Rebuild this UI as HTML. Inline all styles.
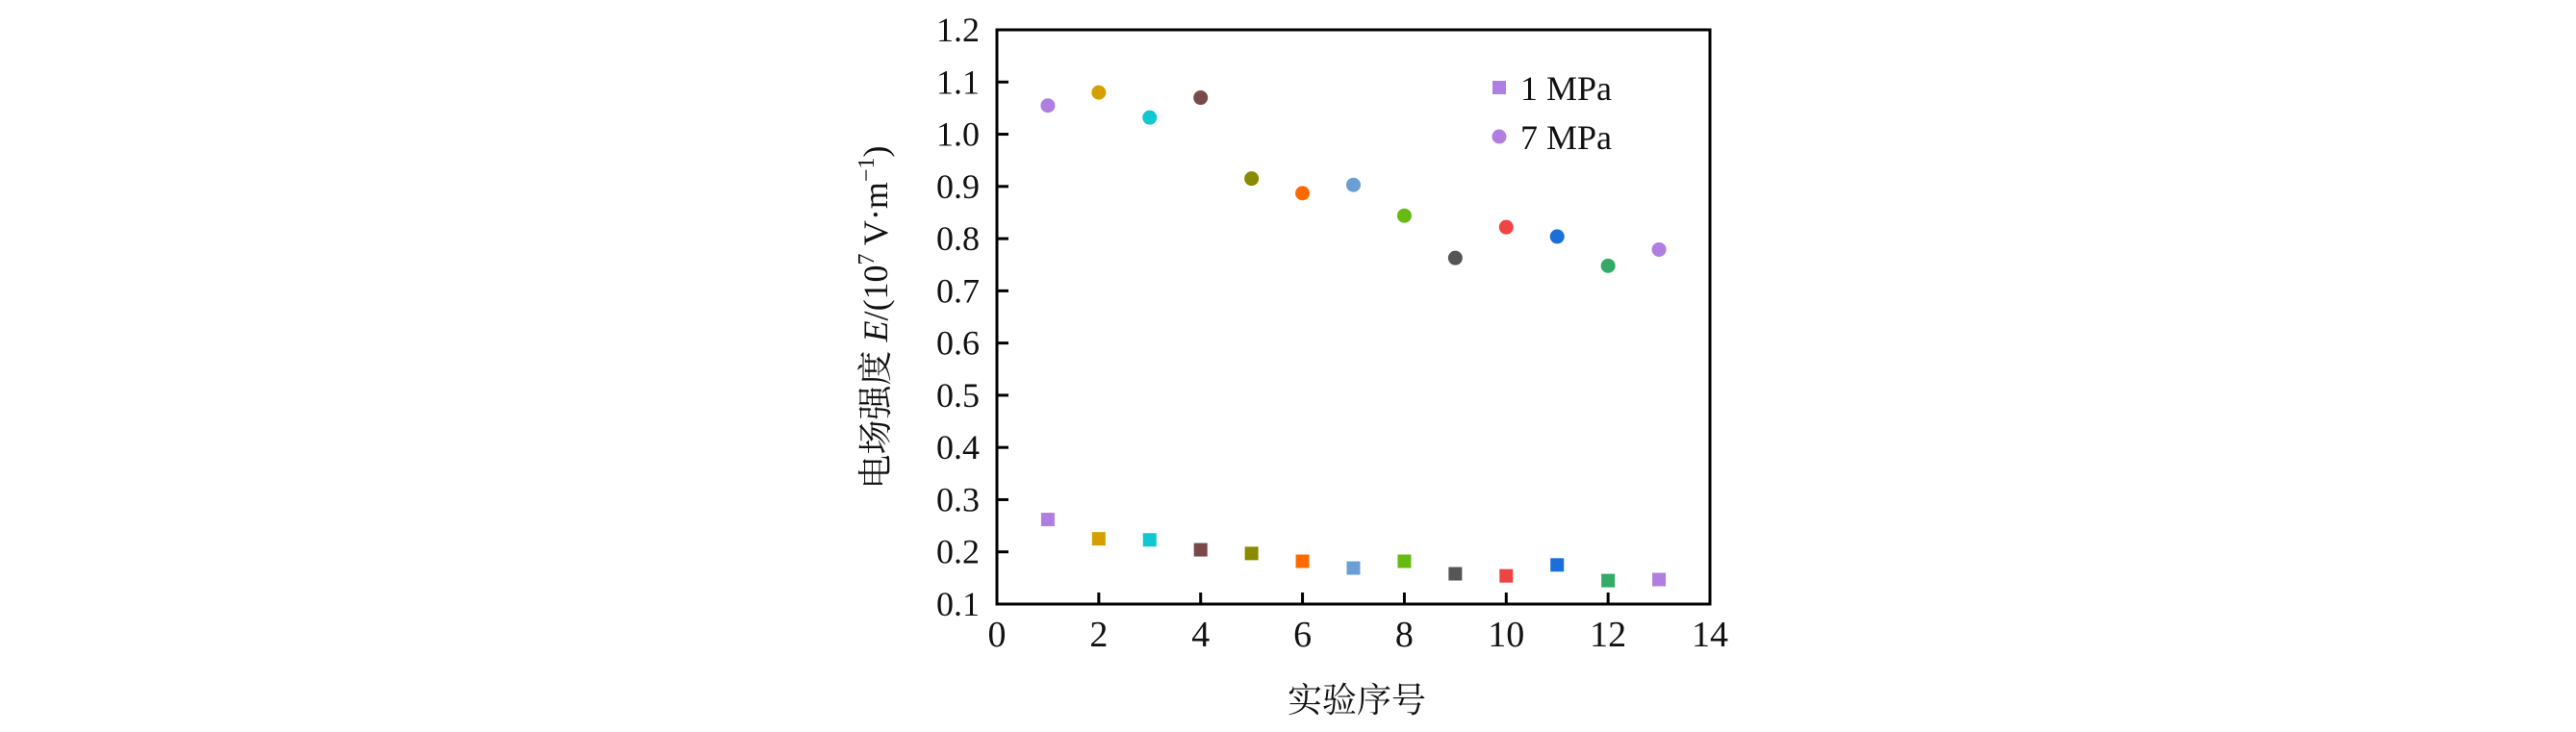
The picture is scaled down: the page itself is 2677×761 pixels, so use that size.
<!DOCTYPE html>
<html><head><meta charset="utf-8"><style>
html,body{margin:0;padding:0;background:#fff;}
svg text{font-family:"Liberation Serif","Noto Serif CJK SC",serif;fill:#111;}
</style></head><body>
<svg id="chart" width="2677" height="756" xmlns="http://www.w3.org/2000/svg">
<g id="axes"></g>
<g id="marks"></g>
<g id="legend">
  <rect x="1551" y="84" width="14" height="14" fill="#b07ee0"/>
  <text x="1580" y="104" font-size="36">1 MPa</text>
  <circle cx="1558" cy="142" r="7.5" fill="#b07ee0"/>
  <text x="1580" y="155" font-size="36">7 MPa</text>
</g>
<text x="1410" y="740" font-size="36" text-anchor="middle">实验序号</text>
<text transform="translate(922,330) rotate(-90)" font-size="36" text-anchor="middle">电场强度 <tspan font-style="italic">E</tspan>/(10<tspan font-size="24" dy="-14">7</tspan><tspan dy="14"> V·m</tspan><tspan font-size="24" dy="-14">−1</tspan><tspan dy="14">)</tspan></text>
</svg>
<script>
const runs=[1,2,3,4,5,6,7,8,9,10,11,12,13];
const e7=[1.055,1.08,1.032,1.07,0.915,0.887,0.903,0.844,0.763,0.822,0.804,0.748,0.779];
const e1=[0.262,0.225,0.223,0.204,0.197,0.182,0.169,0.182,0.158,0.154,0.175,0.145,0.147];
const colors=["#b07ee0","#d4a000","#10c8d0","#7a4a4a","#8a8a00","#ff6a00","#6a9fd4","#66bb11","#555555","#ee4444","#1a6fd8","#33aa66","#b07ee0"];
const xTicks=[0,2,4,6,8,10,12,14];
const yTicks=[0.1,0.2,0.3,0.4,0.5,0.6,0.7,0.8,0.9,1.0,1.1,1.2];
const L=1036,R=1777,T=31,B=628;
const x=v=>L+(v-0)/14*(R-L);
const y=v=>B-(v-0.1)/1.1*(B-T);
const NS="http://www.w3.org/2000/svg";
const axes=document.getElementById('axes'),marks=document.getElementById('marks');
function mk(tag,attrs,parent){const e=document.createElementNS(NS,tag);for(const k in attrs)e.setAttribute(k,attrs[k]);parent.appendChild(e);return e;}
const frame=mk('rect',{x:L,y:T,width:R-L,height:B-T,fill:'none',stroke:'#000','stroke-width':3},axes);


xTicks.forEach(t=>{
  const l=mk('line',{x1:x(t),x2:x(t),y1:B,y2:B-12,stroke:'#000','stroke-width':3},axes);
  
  
  const tx=mk('text',{x:x(t),y:672,'font-size':38,'text-anchor':'middle'},axes);
  tx.textContent=t;
  
  
});
yTicks.forEach(t=>{
  const l=mk('line',{x1:L,x2:L+12,y1:y(t),y2:y(t),stroke:'#000','stroke-width':3},axes);
  
  
  const tx=mk('text',{x:1018,y:y(t)+12,'font-size':36,'text-anchor':'end'},axes);
  tx.textContent=t.toFixed(1);
  
  
});
runs.forEach((r,i)=>{
  const c=mk('circle',{cx:x(r),cy:y(e7[i]),r:7.5,fill:colors[i]},marks);
  
  
  const s=mk('rect',{x:x(r)-7,y:y(e1[i])-7,width:14,height:14,fill:colors[i]},marks);
  
  
});
</script>
</body></html>
